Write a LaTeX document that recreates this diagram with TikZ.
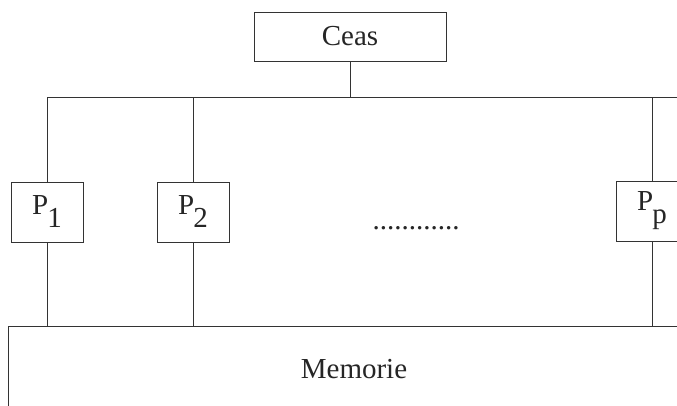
\documentclass[tikz,border=0pt]{standalone}
\usepackage{fontspec}
\setmainfont{Liberation Serif}
\begin{document}
\begin{tikzpicture}[x=1pt,y=1pt,
  ink/.style={draw=black!80, line width=0.9pt},
  box/.style={ink, rectangle, text=black!85, font=\fontsize{29}{32}\selectfont, inner sep=0pt},
  pbox/.style={box, minimum width=72pt, minimum height=60pt},
  wire/.style={ink}]
\clip (0,0) rectangle (677,406);
\fill[white] (0,0) rectangle (677,406);
\node[box, minimum width=192pt, minimum height=49pt] (ceas) at (350,369.5) {Ceas};
\coordinate (busL) at (47,309);
\coordinate (busR) at (690,309);
\draw[wire] (busL) -- (busR);
\draw[wire] (ceas.south) -- (ceas.south |- busL);
\node[pbox] (p1) at (47,194) {P\kern-1pt\raisebox{-13pt}{1}};
\node[pbox] (p2) at (193,194) {P\kern-1pt\raisebox{-13pt}{2}};
\node[pbox] (pp) at (652,195) {P\kern-1pt\raisebox{-13pt}{p}};
\node[text=black!85, font=\fontsize{29}{30}\selectfont, anchor=base, inner sep=0pt] (dots) at (416,176.5) {............};
\node[box, minimum width=682pt, minimum height=86pt] (mem) at (349,37) {};
\node[text=black!85, font=\fontsize{29}{32}\selectfont, inner sep=0pt] (memtxt) at (354,37) {Memorie};
\foreach \p in {p1,p2,pp}{
  \draw[wire] (\p.north) -- (\p.north |- busL);
  \draw[wire] (\p.south) -- (\p.south |- mem.north);
}
\end{tikzpicture}
\end{document}
